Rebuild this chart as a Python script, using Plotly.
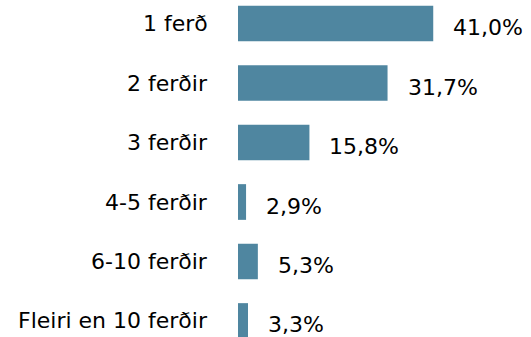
import plotly.graph_objects as go

categories = ["1 ferð", "2 ferðir", "3 ferðir", "4-5 ferðir", "6-10 ferðir", "Fleiri en 10 ferðir"]
values = [41.0, 31.7, 15.8, 2.9, 5.3, 3.3]
value_labels = ["41,0%", "31,7%", "15,8%", "2,9%", "5,3%", "3,3%"]

BAR_COLOR = "#4F86A0"
FONT = dict(family="DejaVu Sans, sans-serif", size=22, color="#000000")

fig = go.Figure(
    go.Bar(
        x=values,
        y=categories,
        orientation="h",
        marker=dict(color=BAR_COLOR, line=dict(width=0)),
        width=0.6,
        hoverinfo="skip",
    )
)

# value labels to the right of each bar
for cat, val, lab in zip(categories, values, value_labels):
    fig.add_annotation(
        x=val, y=cat, xref="x", yref="y",
        text=lab, showarrow=False,
        xanchor="left", yanchor="middle",
        xshift=18, yshift=-4,
        font=FONT,
    )

# category names, right-aligned left of the bars
for cat in categories:
    fig.add_annotation(
        x=0, y=cat, xref="paper", yref="y",
        text=cat, showarrow=False,
        xanchor="right", yanchor="middle",
        xshift=-28,
        font=FONT,
    )

fig.update_layout(
    width=531, height=337,
    margin=dict(l=238, r=0, t=0, b=0),
    paper_bgcolor="white", plot_bgcolor="white",
    showlegend=False,
    xaxis=dict(range=[1.26, 60.9], visible=False, fixedrange=True),
    yaxis=dict(
        type="category",
        categoryorder="array",
        categoryarray=categories,
        range=[5.269, -0.395],
        visible=False,
        fixedrange=True,
    ),
)

fig.write_html("out.html", config={"displayModeBar": False})
